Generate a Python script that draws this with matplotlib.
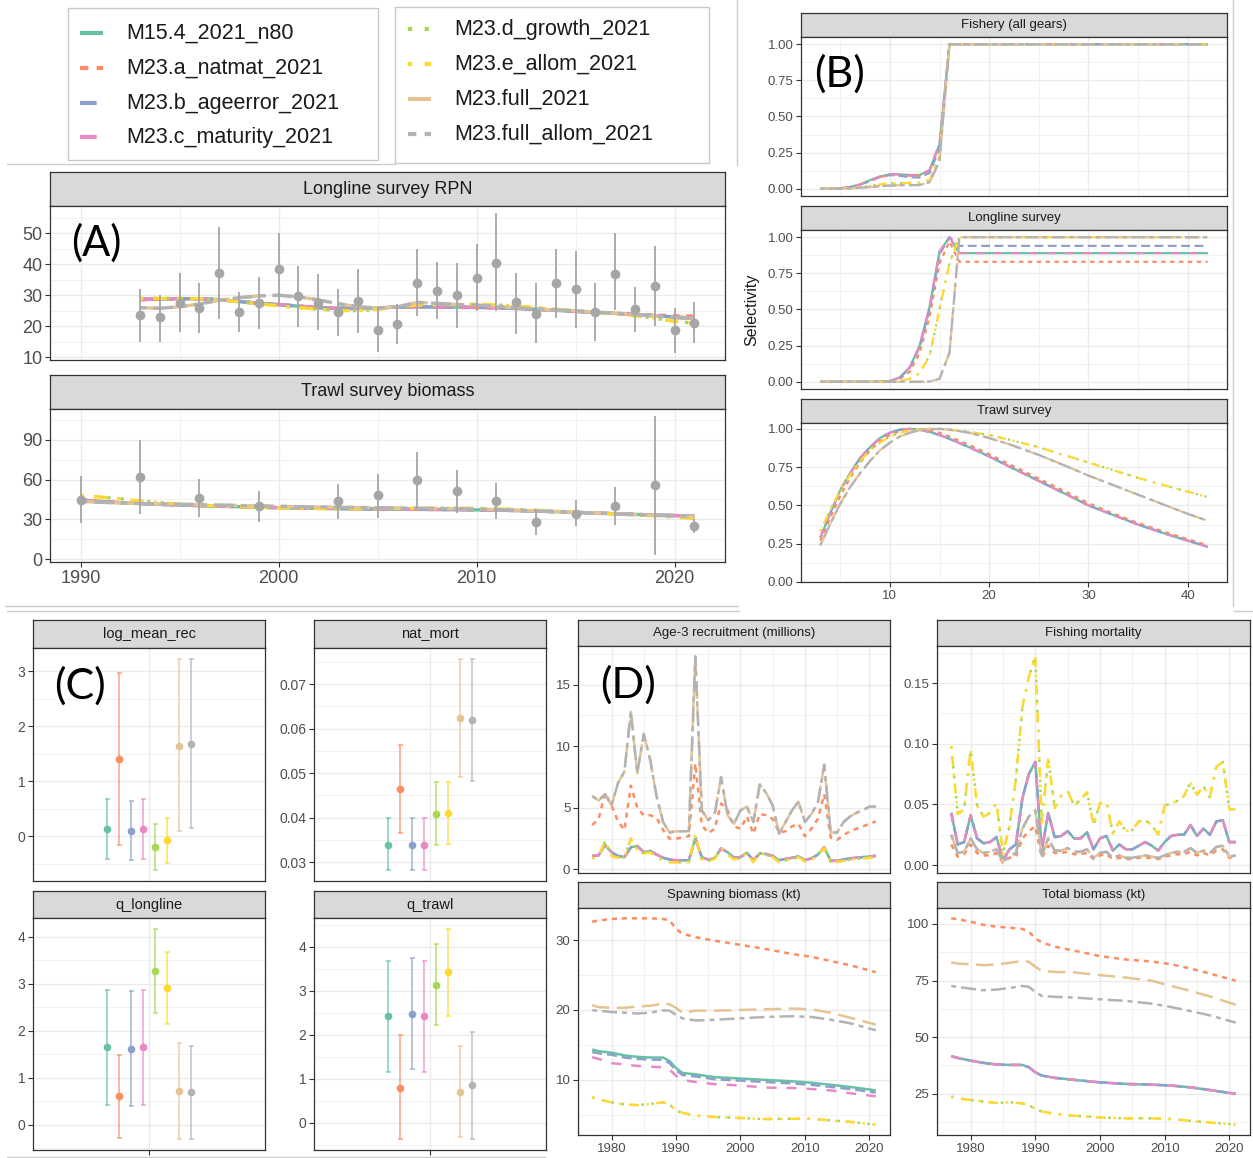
import matplotlib
matplotlib.use('Agg')
import numpy as np
import matplotlib.pyplot as plt
from matplotlib.ticker import AutoMinorLocator, MultipleLocator, FormatStrFormatter
from matplotlib.patches import Rectangle
from matplotlib.colors import to_rgba

plt.rcParams['font.family'] = ['Liberation Sans', 'DejaVu Sans']

W, H = 1253, 1158

models = ['M15.4_2021_n80', 'M23.a_natmat_2021', 'M23.b_ageerror_2021', 'M23.c_maturity_2021',
          'M23.d_growth_2021', 'M23.e_allom_2021', 'M23.full_2021', 'M23.full_allom_2021']
model_colors = ['#66C2A5', '#FC8D62', '#8DA0CB', '#E78AC3', '#A6D854', '#FFD92F', '#E5C494', '#B3B3B3']
model_dashes = [None, (2, 2), (4, 2), (4, 4), (1, 3), (1, 3, 4, 3), (7, 3), (2, 2, 6, 2)]

# ---------- (A) survey index fits ----------
rpn_year = np.arange(1993, 2022)
rpn_obs = [23.5, 22.9, 27.5, 25.8, 37.2, 24.7, 27.4, 38.5, 29.8, 27.4, 24.5, 28.1, 18.9, 20.9, 34.1,
           31.4, 30.0, 35.6, 40.5, 27.9, 24.1, 33.9, 31.9, 24.5, 36.9, 25.7, 32.9, 18.8, 21.2]
rpn_lo = [15.0, 15.0, 18.3, 17.7, 22.2, 18.2, 19.2, 27.0, 19.8, 18.8, 17.0, 17.8, 11.7, 14.4, 23.3,
          22.3, 19.5, 24.8, 25.0, 17.5, 14.5, 22.8, 19.3, 15.3, 25.2, 18.3, 20.0, 11.4, 14.6]
rpn_hi = [32.0, 30.0, 37.2, 33.8, 52.0, 31.0, 35.9, 50.0, 39.5, 36.7, 32.0, 38.3, 26.3, 27.3, 45.0,
          40.7, 40.5, 46.5, 56.5, 37.2, 33.8, 44.8, 44.2, 34.0, 50.0, 32.6, 45.9, 26.0, 27.7]
rpn_base = [28.7, 28.8, 28.9, 28.9, 28.6, 28.0, 27.4, 27.0, 26.5, 26.0, 25.8, 25.7, 25.9, 26.2, 26.3,
            26.2, 26.2, 26.1, 26.0, 25.8, 25.5, 25.2, 24.8, 24.5, 24.2, 23.8, 23.4, 23.0, 22.6]
rpn_natmat = [28.5, 28.7, 28.8, 28.8, 28.5, 28.0, 27.4, 27.0, 26.5, 26.1, 25.9, 25.8, 25.9, 26.1, 26.2,
              26.1, 26.1, 26.0, 25.9, 25.7, 25.4, 25.1, 24.8, 24.5, 24.2, 23.9, 23.6, 23.4, 23.3]
rpn_growth = [29.0, 29.0, 29.0, 28.9, 28.5, 27.9, 27.2, 26.6, 26.0, 25.5, 25.1, 25.0, 25.5, 26.3, 26.9,
              27.0, 27.0, 27.1, 26.9, 26.5, 26.0, 25.5, 25.0, 24.5, 24.0, 23.4, 22.6, 21.6, 21.0]
rpn_full = [26.0, 25.8, 26.3, 27.2, 28.4, 29.2, 29.8, 30.0, 29.5, 28.5, 27.3, 26.3, 25.9, 26.3, 27.7,
            27.4, 27.0, 26.8, 26.5, 26.0, 25.5, 25.3, 25.0, 24.6, 24.2, 23.8, 23.3, 22.8, 22.5]
rpn_fit = dict(zip(models, [rpn_base, rpn_natmat, rpn_base, rpn_base,
                            rpn_growth, rpn_growth, rpn_full, rpn_full]))

ts_year = np.arange(1990, 2022)
ts_obs_year = [1990, 1993, 1996, 1999, 2003, 2005, 2007, 2009, 2011, 2013, 2015, 2017, 2019, 2021]
ts_obs = [44.7, 62.0, 46.2, 40.2, 43.5, 48.0, 60.0, 51.0, 43.7, 27.9, 34.0, 39.7, 55.8, 24.6]
ts_lo = [27.0, 34.0, 31.5, 28.0, 30.0, 31.0, 38.0, 35.0, 30.0, 18.0, 25.0, 26.0, 3.0, 19.5]
ts_hi = [63.0, 90.0, 60.5, 51.0, 56.5, 64.5, 80.5, 67.0, 57.5, 37.0, 44.5, 54.0, 108.0, 30.0]
ts_base = [44.5, 43.5, 42.6, 41.9, 41.3, 40.8, 40.3, 39.9, 39.5, 39.1, 38.8, 38.5, 38.3, 38.1, 37.9, 37.7,
           37.6, 37.5, 37.4, 37.3, 37.1, 36.9, 36.6, 36.2, 35.7, 35.2, 34.7, 34.2, 33.7, 33.2, 32.8, 32.4]
ts_growth = [48.0, 46.8, 45.5, 43.8, 42.5, 41.5, 40.7, 40.0, 39.5, 39.0, 38.6, 38.3, 38.1, 38.0, 38.0, 38.1,
             38.2, 38.3, 38.4, 38.4, 38.2, 37.9, 37.4, 36.8, 36.1, 35.4, 34.7, 34.0, 33.3, 32.6, 31.8, 30.5]
ts_full = [43.5, 42.8, 42.3, 41.9, 41.6, 41.3, 41.0, 40.7, 40.4, 40.1, 39.8, 39.5, 39.3, 39.1, 38.9, 38.7,
           38.5, 38.3, 38.1, 37.9, 37.6, 37.3, 36.9, 36.4, 35.9, 35.3, 34.7, 34.1, 33.5, 33.0, 32.5, 32.1]
ts_fit = dict(zip(models, [ts_base, ts_base, ts_base, ts_base,
                           ts_growth, ts_growth, ts_full, ts_full]))

# ---------- (B) selectivity at age ----------
fsh_age = [3, 4, 5, 6, 7, 8, 9, 10, 11, 12, 13, 14, 15, 16, 17, 42]
fsh_base = [0.0, 0.0, 0.003, 0.012, 0.03, 0.06, 0.085, 0.10, 0.10, 0.095, 0.095, 0.13, 0.31, 1.0, 1.0, 1.0]
fsh_natmat = [0.0, 0.0, 0.003, 0.01, 0.027, 0.055, 0.08, 0.095, 0.095, 0.09, 0.09, 0.125, 0.30, 1.0, 1.0, 1.0]
fsh_ageerr = [0.0, 0.0, 0.003, 0.01, 0.028, 0.055, 0.08, 0.095, 0.09, 0.08, 0.078, 0.11, 0.28, 1.0, 1.0, 1.0]
fsh_growth = [0.0, 0.0, 0.001, 0.004, 0.01, 0.02, 0.03, 0.038, 0.04, 0.04, 0.042, 0.06, 0.22, 1.0, 1.0, 1.0]
fsh_full = [0.0, 0.0, 0.001, 0.003, 0.007, 0.012, 0.018, 0.022, 0.025, 0.025, 0.026, 0.045, 0.19, 1.0, 1.0, 1.0]
fsh_sel = dict(zip(models, [fsh_base, fsh_natmat, fsh_ageerr, fsh_base,
                            fsh_growth, fsh_growth, fsh_full, fsh_full]))

ll_age = [3, 4, 5, 6, 7, 8, 9, 10, 11, 12, 13, 14, 15, 16, 17, 18, 42]
ll_base = [0.0, 0.0, 0.0, 0.0, 0.0, 0.0, 0.001, 0.005, 0.03, 0.10, 0.25, 0.52, 0.90, 1.0, 0.89, 0.89, 0.89]
ll_ageerr = [0.0, 0.0, 0.0, 0.0, 0.0, 0.0, 0.001, 0.005, 0.028, 0.095, 0.24, 0.50, 0.88, 1.0, 0.94, 0.94, 0.94]
ll_natmat = [0.0, 0.0, 0.0, 0.0, 0.0, 0.0, 0.0, 0.003, 0.02, 0.07, 0.20, 0.45, 0.82, 0.97, 0.83, 0.83, 0.83]
ll_growth = [0.0, 0.0, 0.0, 0.0, 0.0, 0.0, 0.0, 0.001, 0.005, 0.02, 0.06, 0.18, 0.50, 0.82, 1.0, 1.0, 1.0]
ll_full = [0.0, 0.0, 0.0, 0.0, 0.0, 0.0, 0.0, 0.0, 0.0, 0.0, 0.0, 0.002, 0.02, 0.20, 1.0, 1.0, 1.0]
ll_sel = dict(zip(models, [ll_base, ll_natmat, ll_ageerr, ll_base,
                           ll_growth, ll_growth, ll_full, ll_full]))

tw_age = [3, 4, 5, 6, 7, 8, 9, 10, 11, 12, 13, 14, 15, 16, 18, 20, 22, 25, 28, 30, 32, 35, 38, 40, 42]
tw_base = [0.29, 0.45, 0.60, 0.71, 0.81, 0.88, 0.94, 0.975, 0.995, 1.0, 0.995, 0.98, 0.96, 0.935, 0.88,
           0.82, 0.755, 0.66, 0.565, 0.50, 0.45, 0.375, 0.31, 0.27, 0.23]
tw_natmat = [0.27, 0.42, 0.56, 0.68, 0.78, 0.86, 0.92, 0.96, 0.985, 0.998, 1.0, 0.99, 0.975, 0.95, 0.895,
             0.835, 0.77, 0.675, 0.58, 0.515, 0.46, 0.385, 0.32, 0.28, 0.24]
tw_growth = [0.33, 0.47, 0.60, 0.70, 0.79, 0.86, 0.91, 0.95, 0.975, 0.99, 0.998, 1.0, 1.0, 0.995, 0.98,
             0.96, 0.93, 0.88, 0.82, 0.78, 0.74, 0.68, 0.625, 0.59, 0.555]
tw_full = [0.24, 0.38, 0.51, 0.62, 0.71, 0.79, 0.86, 0.91, 0.95, 0.975, 0.99, 0.998, 1.0, 0.995, 0.975,
           0.94, 0.90, 0.83, 0.75, 0.695, 0.645, 0.57, 0.495, 0.445, 0.40]
tw_sel = dict(zip(models, [tw_base, tw_natmat, tw_base, tw_base,
                           tw_growth, tw_growth, tw_full, tw_full]))

# ---------- (C) parameter estimates with 95% intervals ----------
lmr_est = [0.13, 1.40, 0.10, 0.13, -0.20, -0.07, 1.65, 1.68]
lmr_lo = [-0.41, -0.16, -0.43, -0.41, -0.62, -0.48, 0.09, 0.15]
lmr_hi = [0.68, 2.96, 0.64, 0.68, 0.22, 0.33, 3.22, 3.23]
natm_est = [0.0340, 0.0464, 0.0340, 0.0340, 0.0409, 0.0411, 0.0623, 0.0620]
natm_lo = [0.0282, 0.0365, 0.0282, 0.0282, 0.0338, 0.0342, 0.0491, 0.0483]
natm_hi = [0.0399, 0.0563, 0.0399, 0.0399, 0.0480, 0.0481, 0.0755, 0.0757]
qll_est = [1.65, 0.61, 1.62, 1.65, 3.27, 2.91, 0.71, 0.69]
qll_lo = [0.43, -0.27, 0.40, 0.43, 2.37, 2.14, -0.31, -0.29]
qll_hi = [2.86, 1.49, 2.85, 2.86, 4.17, 3.68, 1.73, 1.67]
qtw_est = [2.42, 0.80, 2.48, 2.42, 3.14, 3.42, 0.71, 0.85]
qtw_lo = [1.15, -0.38, 1.22, 1.15, 2.23, 2.43, -0.32, -0.36]
qtw_hi = [3.68, 2.00, 3.74, 3.68, 4.06, 4.42, 1.74, 2.07]

# ---------- (D) derived time series ----------
year = np.arange(1977, 2022)
rec_full = [5.96, 5.6, 6.1, 5.2, 7.0, 7.95, 12.8, 7.8, 11.0, 8.9, 5.9, 3.85, 3.0, 3.1, 3.1,
            3.1, 17.3, 4.8, 4.0, 4.5, 7.5, 4.4, 3.7, 4.8, 5.1, 3.85, 6.9, 6.2, 5.2, 2.9,
            3.85, 4.8, 5.5, 3.85, 4.5, 5.4, 8.5, 3.0, 3.0, 3.85, 4.3, 4.6, 4.8, 5.1, 5.1]
rec_natmat = [3.6, 4.1, 6.2, 5.2, 3.9, 3.2, 6.8, 5.0, 4.4, 4.4, 4.2, 3.2, 2.5, 2.5, 2.6,
              2.7, 8.6, 3.6, 2.95, 3.3, 5.35, 4.8, 3.5, 3.3, 4.3, 2.9, 4.5, 4.4, 4.1, 3.0,
              3.1, 3.5, 3.7, 2.7, 3.3, 4.1, 6.1, 2.6, 2.4, 2.8, 3.1, 3.3, 3.5, 3.7, 3.9]
rec_base = [1.1, 1.15, 2.0, 1.4, 1.1, 1.0, 1.8, 1.9, 1.4, 1.5, 1.2, 0.95, 0.8, 0.75, 0.75,
            0.75, 2.5, 1.0, 0.8, 0.9, 1.7, 1.4, 0.95, 1.0, 1.35, 0.75, 1.3, 1.25, 1.1, 0.75,
            0.85, 0.95, 1.05, 0.75, 0.9, 1.2, 1.8, 0.7, 0.7, 0.8, 0.9, 0.95, 1.0, 1.05, 1.1]
rec_growth = [0.9, 1.1, 2.3, 1.1, 0.95, 1.0, 2.5, 1.6, 1.3, 1.4, 1.0, 0.75, 0.6, 0.55, 0.6,
              0.6, 2.8, 0.8, 0.7, 0.85, 1.75, 1.25, 0.8, 0.95, 1.3, 0.6, 1.3, 1.2, 1.0, 0.6,
              0.75, 0.85, 1.0, 0.65, 0.8, 1.15, 1.75, 0.55, 0.6, 0.7, 0.8, 0.85, 0.9, 0.95, 0.95]
rec = dict(zip(models, [rec_base, rec_natmat, rec_base, rec_base,
                        rec_growth, rec_growth, rec_full, rec_full]))

f_growth = [0.098, 0.042, 0.046, 0.095, 0.049, 0.040, 0.043, 0.051, 0.009, 0.032, 0.071, 0.130, 0.155, 0.172, 0.035,
            0.088, 0.047, 0.057, 0.061, 0.049, 0.054, 0.060, 0.033, 0.051, 0.052, 0.026, 0.036, 0.028, 0.029, 0.036,
            0.037, 0.033, 0.025, 0.049, 0.051, 0.053, 0.057, 0.068, 0.058, 0.065, 0.056, 0.081, 0.085, 0.046, 0.046]
f_base = [0.043, 0.017, 0.019, 0.041, 0.022, 0.018, 0.019, 0.023, 0.004, 0.013, 0.017, 0.055, 0.075, 0.085, 0.012,
          0.043, 0.023, 0.024, 0.028, 0.022, 0.022, 0.027, 0.013, 0.022, 0.024, 0.012, 0.017, 0.013, 0.013, 0.016,
          0.019, 0.016, 0.012, 0.019, 0.024, 0.025, 0.025, 0.033, 0.024, 0.030, 0.025, 0.036, 0.037, 0.019, 0.019]
f_full = [0.025, 0.010, 0.011, 0.022, 0.013, 0.010, 0.011, 0.013, 0.003, 0.007, 0.010, 0.030, 0.040, 0.045, 0.008,
          0.022, 0.012, 0.012, 0.014, 0.011, 0.011, 0.013, 0.006, 0.010, 0.011, 0.006, 0.008, 0.006, 0.006, 0.007,
          0.008, 0.007, 0.006, 0.008, 0.010, 0.011, 0.011, 0.014, 0.010, 0.012, 0.010, 0.015, 0.016, 0.007, 0.008]
f_natmat = [0.017, 0.007, 0.009, 0.017, 0.010, 0.008, 0.008, 0.010, 0.002, 0.006, 0.007, 0.022, 0.028, 0.032, 0.006,
            0.016, 0.010, 0.010, 0.011, 0.009, 0.009, 0.010, 0.005, 0.008, 0.009, 0.005, 0.006, 0.005, 0.005, 0.006,
            0.006, 0.006, 0.005, 0.007, 0.008, 0.009, 0.009, 0.011, 0.008, 0.010, 0.008, 0.012, 0.013, 0.006, 0.007]
fmort = dict(zip(models, [f_base, f_natmat, f_base, f_base,
                          f_growth, f_growth, f_full, f_full]))

bio_year = [1977, 1978, 1980, 1982, 1984, 1986, 1988, 1989, 1990, 1991, 1993, 1996, 2000, 2004, 2008,
            2011, 2014, 2017, 2021]
ssb_natmat = [32.6, 32.8, 33.0, 33.1, 33.1, 33.1, 33.0, 32.8, 31.6, 30.9, 30.4, 29.9, 29.3, 28.7, 28.0,
              27.6, 27.0, 26.4, 25.4]
ssb_full = [20.7, 20.4, 20.3, 20.3, 20.5, 20.6, 20.9, 20.8, 20.3, 19.6, 19.9, 19.9, 20.0, 20.1, 20.2,
            20.1, 19.6, 18.9, 17.9]
ssb_full_allom = [19.95, 19.9, 19.7, 19.6, 19.5, 19.6, 19.95, 19.9, 19.3, 18.8, 18.5, 18.6, 18.8, 19.0, 19.1,
                  19.0, 18.6, 18.1, 17.1]
ssb_base = [14.35, 14.1, 13.9, 13.5, 13.3, 13.2, 13.2, 12.7, 11.7, 11.0, 10.8, 10.4, 10.2, 10.0, 9.8,
            9.6, 9.3, 9.0, 8.5]
ssb_ageerr = [14.0, 13.8, 13.6, 13.2, 13.0, 12.9, 12.9, 12.4, 11.4, 10.7, 10.5, 10.1, 9.9, 9.7, 9.5,
              9.3, 9.0, 8.7, 8.2]
ssb_maturity = [13.25, 13.0, 12.4, 12.2, 12.0, 11.9, 11.8, 11.5, 10.6, 10.0, 9.7, 9.4, 9.2, 8.9, 8.85,
                8.7, 8.5, 8.1, 7.65]
ssb_growth = [7.5, 7.2, 6.8, 6.5, 6.4, 6.55, 6.8, 6.5, 5.6, 5.3, 4.9, 4.7, 4.55, 4.4, 4.45,
              4.45, 4.2, 4.0, 3.6]
ssb = dict(zip(models, [ssb_base, ssb_natmat, ssb_ageerr, ssb_maturity,
                        ssb_growth, ssb_growth, ssb_full, ssb_full_allom]))

tb_natmat = [102.5, 102.1, 101.0, 99.6, 98.8, 98.4, 97.8, 96.6, 93.6, 91.9, 90.0, 88.2, 85.8, 84.3, 83.4,
             82.2, 80.3, 78.1, 74.9]
tb_full = [83.0, 82.5, 82.2, 81.8, 82.1, 82.8, 83.7, 83.3, 81.1, 79.3, 78.8, 78.6, 77.4, 76.3, 74.9,
           72.6, 70.4, 68.0, 64.3]
tb_full_allom = [72.6, 72.2, 71.4, 70.7, 71.0, 71.7, 72.6, 72.2, 70.0, 68.2, 67.8, 67.5, 66.7, 66.0, 64.8,
                 63.3, 61.5, 59.6, 56.4]
tb_base = [41.6, 40.8, 39.6, 38.6, 37.9, 37.7, 37.7, 36.7, 34.5, 33.0, 32.0, 31.1, 30.0, 29.3, 29.0,
           28.6, 27.8, 26.6, 24.9]
tb_growth = [23.7, 22.9, 22.2, 21.5, 20.9, 21.2, 20.7, 20.0, 18.2, 17.2, 16.0, 15.3, 14.5, 14.1, 14.1,
             13.8, 13.0, 12.3, 11.3]
tbio = dict(zip(models, [tb_base, tb_natmat, tb_base, tb_base,
                         tb_growth, tb_growth, tb_full, tb_full_allom]))


def line_style(i):
    return '-' if model_dashes[i] is None else (0, model_dashes[i])


def px_rect(x0, y0, x1, y1):
    return [x0 / W, 1 - y1 / H, (x1 - x0) / W, (y1 - y0) / H]


fig = plt.figure(figsize=(W / 100, H / 100), dpi=100)


def facet(x0, x1, s0, s1, p1, title, fs, ts, sharex=None):
    st = fig.add_axes(px_rect(x0, s0, x1, s1))
    st.set_facecolor('#D9D9D9')
    st.set_xticks([])
    st.set_yticks([])
    for sp in st.spines.values():
        sp.set_color('#333333')
        sp.set_linewidth(0.9)
    st.text(0.5, 0.5, title, ha='center', va='center', fontsize=fs,
            color='#1A1A1A', transform=st.transAxes)
    ax = fig.add_axes(px_rect(x0, s1, x1, p1), sharex=sharex)
    for sp in ax.spines.values():
        sp.set_color('#333333')
        sp.set_linewidth(0.9)
    ax.set_axisbelow(True)
    ax.grid(which='major', color='#EBEBEB', lw=1.0)
    ax.grid(which='minor', color='#F0F0F0', lw=0.6)
    ax.tick_params(which='major', length=3.5, width=0.8, color='#333333',
                   labelcolor='#4D4D4D', labelsize=ts, pad=2)
    ax.tick_params(which='minor', length=0)
    ax.margins(0.05)
    return ax


def draw_models(ax, x, series, lw):
    for i, m in enumerate(models):
        ax.plot(x, series[m], color=model_colors[i], lw=lw, ls=line_style(i),
                solid_capstyle='butt', dash_capstyle='butt', zorder=2)


def hide_x(ax):
    ax.tick_params(axis='x', which='both', length=0, labelbottom=False)


# ---- (A) ----
axA1 = facet(50, 725, 172, 206, 360, 'Longline survey RPN', 13, 13)
axA2 = facet(50, 725, 375, 409, 562, 'Trawl survey biomass', 13, 13, sharex=axA1)
draw_models(axA1, rpn_year, rpn_fit, 2.4)
axA1.vlines(rpn_year, rpn_lo, rpn_hi, color='#A6A6A6', lw=1.3, zorder=3)
axA1.plot(rpn_year, rpn_obs, 'o', color='#A6A6A6', ms=6, zorder=3)
draw_models(axA2, ts_year, ts_fit, 2.4)
axA2.vlines(ts_obs_year, ts_lo, ts_hi, color='#A6A6A6', lw=1.3, zorder=3)
axA2.plot(ts_obs_year, ts_obs, 'o', color='#A6A6A6', ms=6, zorder=3)
axA2.set_xticks([1990, 2000, 2010, 2020])
axA2.xaxis.set_minor_locator(AutoMinorLocator(2))
axA1.yaxis.set_major_locator(MultipleLocator(10))
axA2.yaxis.set_major_locator(MultipleLocator(30))
for ax in (axA1, axA2):
    ax.yaxis.set_minor_locator(AutoMinorLocator(2))
hide_x(axA1)

# ---- (B) ----
axB1 = facet(801, 1227, 13, 37, 196, 'Fishery (all gears)', 9.5, 9.5)
axB2 = facet(801, 1227, 206, 230, 389, 'Longline survey', 9.5, 9.5, sharex=axB1)
axB3 = facet(801, 1227, 399, 423, 582, 'Trawl survey', 9.5, 9.5, sharex=axB1)
draw_models(axB1, fsh_age, fsh_sel, 1.6)
draw_models(axB2, ll_age, ll_sel, 1.6)
draw_models(axB3, tw_age, tw_sel, 1.6)
axB3.set_xticks([10, 20, 30, 40])
axB3.xaxis.set_minor_locator(AutoMinorLocator(2))
for ax in (axB1, axB2, axB3):
    ax.set_yticks([0, 0.25, 0.5, 0.75, 1.0])
    ax.yaxis.set_major_formatter(FormatStrFormatter('%.2f'))
    ax.yaxis.set_minor_locator(AutoMinorLocator(2))
hide_x(axB1)
hide_x(axB2)
fig.text(752 / W, 1 - 310 / H, 'Selectivity', rotation=90, ha='center', va='center',
         fontsize=11.5, color='#1A1A1A')

# ---- (C) ----
dodge = 1 + (np.arange(len(models)) - 3.5) * 0.0625
c_panels = [
    ((33, 265, 620, 648, 881), 'log_mean_rec', lmr_est, lmr_lo, lmr_hi, 1, '%g'),
    ((314, 546, 620, 648, 881), 'nat_mort', natm_est, natm_lo, natm_hi, 0.01, '%.2f'),
    ((33, 265, 891, 918, 1150), 'q_longline', qll_est, qll_lo, qll_hi, 1, '%g'),
    ((314, 546, 891, 918, 1150), 'q_trawl', qtw_est, qtw_lo, qtw_hi, 1, '%g'),
]
for k, (box, title, est, lo, hi, step, fmt) in enumerate(c_panels):
    ax = facet(*box, title, 10.5, 10)
    for i in range(len(models)):
        ax.errorbar(dodge[i], est[i], yerr=[[est[i] - lo[i]], [hi[i] - est[i]]], fmt='o',
                    color=model_colors[i], ecolor=to_rgba(model_colors[i], 0.8), ms=4.5,
                    elinewidth=1.1, capsize=1.8, capthick=1.1, zorder=3)
    ax.set_xlim(0.4, 1.6)
    ax.set_xticks([1])
    ax.set_xticklabels([''])
    ax.yaxis.set_major_locator(MultipleLocator(step))
    ax.yaxis.set_major_formatter(FormatStrFormatter(fmt))
    ax.yaxis.set_minor_locator(AutoMinorLocator(2))
    if k < 2:
        hide_x(ax)

# ---- (D) ----
axD1 = facet(578, 890, 620, 646, 873, 'Age-3 recruitment (millions)', 9.5, 9.5)
axD2 = facet(937, 1250, 620, 646, 873, 'Fishing mortality', 9.5, 9.5)
axD3 = facet(578, 890, 882, 908, 1135, 'Spawning biomass (kt)', 9.5, 9.5, sharex=axD1)
axD4 = facet(937, 1250, 882, 908, 1135, 'Total biomass (kt)', 9.5, 9.5, sharex=axD2)
draw_models(axD1, year, rec, 1.8)
draw_models(axD2, year, fmort, 1.8)
draw_models(axD3, bio_year, ssb, 1.8)
draw_models(axD4, bio_year, tbio, 1.8)
for ax in (axD3, axD4):
    ax.set_xticks([1980, 1990, 2000, 2010, 2020])
    ax.xaxis.set_minor_locator(AutoMinorLocator(2))
axD1.yaxis.set_major_locator(MultipleLocator(5))
axD2.yaxis.set_major_locator(MultipleLocator(0.05))
axD2.yaxis.set_major_formatter(FormatStrFormatter('%.2f'))
axD3.yaxis.set_major_locator(MultipleLocator(10))
axD4.yaxis.set_major_locator(MultipleLocator(25))
for ax in (axD1, axD2, axD3, axD4):
    ax.yaxis.set_minor_locator(AutoMinorLocator(2))
hide_x(axD1)
hide_x(axD2)

# ---- legends, panel tags and frames (pixel space) ----
ov = fig.add_axes([0, 0, 1, 1])
ov.set_xlim(0, W)
ov.set_ylim(H, 0)
ov.axis('off')
ov.patch.set_alpha(0)

frame_col = '#CCCCCC'
for (xa, ya, xb, yb) in [(7, 163.5, 395, 163.5), (737, 0, 737, 165), (1233, 0, 1233, 606),
                         (5, 606, 738, 606), (7, 611, 739, 611), (1234, 611, 1253, 611),
                         (7, 1157, 545, 1157)]:
    ov.plot([xa, xb], [ya, yb], color=frame_col, lw=1)

legend_boxes = [((68, 8, 378, 160), range(0, 4), [33, 68, 103, 137], 80, 126),
                ((395, 7, 709, 163), range(4, 8), [29, 64, 99, 134], 408, 454)]
for (bx0, by0, bx1, by1), idx, rows, kx, tx in legend_boxes:
    ov.add_patch(Rectangle((bx0, by0), bx1 - bx0, by1 - by0, fill=False,
                           edgecolor='#C8C8C8', lw=1))
    for i, ry in zip(idx, rows):
        ov.plot([kx, kx + 23], [ry, ry], color=model_colors[i], lw=3, ls=line_style(i),
                solid_capstyle='butt', dash_capstyle='butt')
        ov.text(tx, ry, models[i], fontsize=15.5, va='center', ha='left', color='#1A1A1A')

for tag, tx, ty, fs in [('(A)', 96, 243, 30), ('(B)', 840, 74, 31),
                        ('(C)', 80, 686, 31), ('(D)', 628, 685, 31)]:
    ov.text(tx, ty, tag, fontsize=fs, ha='center', va='center', color='black',
            family=['Lato', 'DejaVu Sans'])

fig.savefig('out.png', dpi=100)
